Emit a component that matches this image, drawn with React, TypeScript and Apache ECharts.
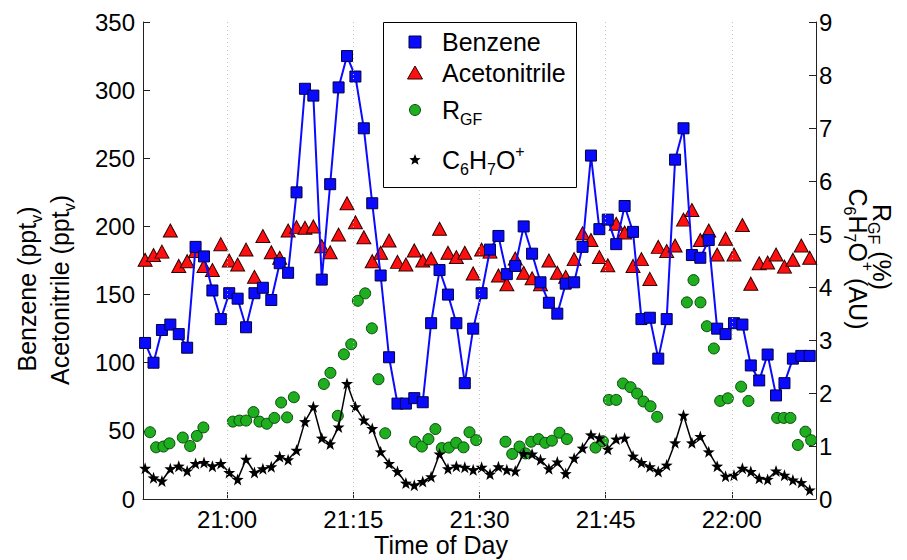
import React, { useEffect, useRef } from "react";
import * as echarts from "echarts";

// minutes after 20:00
const START_MIN = 50.25;
const X_MIN = 50;
const X_MAX = 130;
const X_TICKS = [60, 75, 90, 105, 120];

const BENZENE = [
  114.5, 100, 124, 128, 121, 111, 185, 178, 153, 132,
  151, 147, 126, 151, 155, 146, 173, 166, 225, 301,
  296, 161, 231, 302, 325, 310, 272, 217, 164, 104,
  70, 70, 74, 71, 129, 168, 150, 129, 85, 125,
  151, 183, 193, 165, 171, 200, 180, 159, 144, 136,
  158, 159, 185, 252, 198, 205, 187, 215, 196, 132,
  133, 103, 132, 249, 272, 179, 177, 190, 125, 121,
  129, 128, 98, 87, 106, 76, 85, 103, 105, 105,
];

const ACETONITRILE = [
  175.5, 179, 181.5, 197, 171, 174.5, 182, 171, 168, 187,
  175, 172, 183, 163, 193, 181, 177, 197, 199.5, 199,
  200, 185.5, 181, 194, 217, 203, 192, 174.5, 180.7, 189.7,
  174, 172, 182.4, 175, 176.5, 198.3, 180.7, 177.5, 180.7, 165.5,
  183, 181.5, 164, 157.5, 176.5, 166, 162, 157.5, 175, 166,
  163, 176, 195, 190, 177.5, 171.5, 202, 195.5, 171, 176,
  161.5, 185, 182, 186, 205, 212, 190, 197, 179.4, 191,
  179.4, 201, 158, 173, 173.5, 179.4, 170.5, 175.5, 186, 177,
];

const C6H7O = [
  0.58, 0.4, 0.34, 0.57, 0.62, 0.53, 0.67, 0.69, 0.62, 0.67,
  0.5, 0.37, 0.75, 0.5, 0.57, 0.61, 0.8, 0.74, 0.92, 1.46,
  1.74, 1.15, 1.04, 1.36, 2.18, 1.74, 1.49, 1.33, 0.89, 0.67,
  0.52, 0.3, 0.26, 0.33, 0.42, 0.85, 0.57, 0.62, 0.6, 0.55,
  0.6, 0.47, 0.61, 0.55, 0.53, 0.86, 0.85, 0.74, 0.57, 0.7,
  0.48, 0.77, 0.96, 1.21, 1.15, 0.94, 1.13, 1.15, 0.81, 0.69,
  0.61, 0.52, 0.64, 1.06, 1.58, 1.06, 1.18, 0.89, 0.62, 0.43,
  0.45, 0.58, 0.52, 0.39, 0.37, 0.53, 0.45, 0.36, 0.31, 0.17,
];

const RGF_TIMES = [
  50.84, 51.56, 52.43, 53.14, 54.73, 55.6, 56.4, 57.18,
  60.68, 61.46, 62.26, 63.13, 63.84, 64.72, 65.62, 66.42, 67.13, 67.93,
  71.5, 72.28, 73.16, 73.88, 74.75, 75.54, 76.41, 77.21, 77.99, 78.79,
  82.35, 83.15, 83.93, 84.76, 85.52, 86.36, 87.23, 88.1, 88.81, 89.61,
  93.09, 93.89, 94.76, 95.47, 96.15, 97.02, 97.81, 98.61, 99.51, 100.39,
  103.79, 104.67, 105.38, 106.25, 107.05, 107.95, 108.74, 109.49, 110.33, 111.12,
  114.65, 115.44, 116.27, 117.03, 117.86, 118.61, 119.52, 121.1, 121.97,
  125.38, 126.17, 126.96, 127.84, 128.74, 129.42,
];
const RGF = [
  1.26, 0.975, 0.99, 1.05, 1.16, 1.0, 1.19, 1.35,
  1.46, 1.48, 1.48, 1.64, 1.46, 1.42, 1.53, 1.82, 1.54, 1.92,
  2.17, 2.38, 1.57, 2.73, 2.92, 3.74, 3.88, 3.22, 2.26, 1.24,
  1.08, 0.99, 1.13, 1.32, 0.96, 0.97, 1.06, 0.975, 1.26, 1.11,
  1.08, 0.85, 0.99, 0.86, 1.08, 1.13, 1.06, 1.1, 1.25, 1.13,
  0.97, 1.09, 1.87, 1.87, 2.18, 2.11, 1.99, 1.84, 1.75, 1.55,
  3.71, 4.13, 3.71, 3.26, 2.84, 1.85, 1.9, 2.12, 1.85,
  1.53, 1.53, 1.53, 1.02, 1.27, 1.11,
];

const FONT = "'Liberation Sans', Arial, Helvetica, sans-serif";
const STAR =
  "path://M0,-10L2.35,-3.24L9.51,-3.09L3.8,1.24L5.88,8.09L0,4L-5.88,8.09L-3.8,1.24L-9.51,-3.09L-2.35,-3.24Z";

const BLUE = "#0a0aff";
const RED = "#ff1010";
const GREEN = "#1fae1f";

function starPoints(cx: number, cy: number, R: number, r: number) {
  const pts: number[][] = [];
  for (let k = 0; k < 10; k++) {
    const ang = -Math.PI / 2 + (k * Math.PI) / 5;
    const rad = k % 2 === 0 ? R : r;
    pts.push([cx + rad * Math.cos(ang), cy + rad * Math.sin(ang)]);
  }
  return pts;
}

function fmtTime(v: number) {
  const h = 20 + Math.floor(v / 60);
  const m = Math.round(v % 60);
  return `${h}:${m < 10 ? "0" + m : m}`;
}

const rich = (size: number) => ({
  n: { fontSize: size, lineHeight: 34, fontFamily: FONT, color: "#000" },
  sb: { fontSize: 16, verticalAlign: "bottom", fontFamily: FONT, color: "#000" },
  sp: { fontSize: 16, verticalAlign: "top", fontFamily: FONT, color: "#000" },
});

export default function App() {
  const ref = useRef<HTMLDivElement>(null);
  useEffect(() => {
    if (!ref.current) return;
    const chart = echarts.init(ref.current, null, { renderer: "svg" });
    const times = BENZENE.map((_, i) => START_MIN + i);
    const axisColor = "#222";
    const option: any = {
      animation: false,
      backgroundColor: "#fff",
      grid: { left: 143, right: 91, top: 22, bottom: 61, containLabel: false },
      xAxis: {
        type: "value",
        min: X_MIN,
        max: X_MAX,
        axisLine: { show: true, lineStyle: { color: axisColor, width: 1 } },
        axisTick: { show: true, inside: true, length: 7, customValues: X_TICKS, lineStyle: { color: axisColor } },
        axisLabel: {
          customValues: X_TICKS,
          formatter: (v: number) => fmtTime(v),
          fontSize: 24,
          fontFamily: FONT,
          color: "#000",
          margin: 8,
        },
        splitLine: { show: false },
      },
      yAxis: [
        {
          type: "value",
          position: "left",
          min: 0,
          max: 350,
          interval: 50,
          axisLine: { show: true, lineStyle: { color: axisColor } },
          axisTick: { show: true, inside: true, length: 7, lineStyle: { color: axisColor } },
          axisLabel: { fontSize: 24, fontFamily: FONT, color: "#000", margin: 8 },
          splitLine: { show: false },
        },
        {
          type: "value",
          position: "right",
          min: 0,
          max: 9,
          interval: 1,
          axisLine: { show: true, lineStyle: { color: axisColor } },
          axisTick: { show: true, inside: true, length: 7, lineStyle: { color: axisColor } },
          axisLabel: { fontSize: 24, fontFamily: FONT, color: "#000", margin: 3 },
          splitLine: { show: false },
        },
      ],
      series: [
        {
          name: "Benzene",
          type: "line",
          yAxisIndex: 0,
          data: times.map((t, i) => [t, BENZENE[i]]),
          symbol: "rect",
          symbolSize: 11,
          showAllSymbol: true,
          itemStyle: { color: BLUE, borderColor: "#000040", borderWidth: 1 },
          lineStyle: { color: BLUE, width: 2 },
          markLine: {
            silent: true,
            symbol: ["none", "none"],
            label: { show: false },
            lineStyle: { type: [1, 3], color: "#c4c4c4", width: 1 },
            data: X_TICKS.map((v) => ({ xAxis: v })),
          },
        },
        {
          name: "Acetonitrile",
          type: "scatter",
          yAxisIndex: 0,
          data: times.map((t, i) => [t, ACETONITRILE[i]]),
          symbol: "triangle",
          symbolSize: [14, 13],
          itemStyle: { color: RED, borderColor: "#300000", borderWidth: 1, opacity: 1 },
        },
        {
          name: "RGF",
          type: "scatter",
          yAxisIndex: 1,
          data: RGF_TIMES.map((t, i) => [t, RGF[i]]),
          symbol: "circle",
          symbolSize: 11,
          itemStyle: { color: GREEN, borderColor: "#0a4a0a", borderWidth: 1, opacity: 1 },
        },
        {
          name: "C6H7O+",
          type: "line",
          yAxisIndex: 1,
          data: times.map((t, i) => [t, C6H7O[i]]),
          symbol: STAR,
          symbolSize: 12,
          showAllSymbol: true,
          itemStyle: { color: "#000" },
          lineStyle: { color: "#000", width: 1.5 },
        },
      ],
      graphic: [
        // legend box
        { type: "rect", shape: { x: 383.5, y: 22.5, width: 193, height: 165 }, style: { fill: "#fff", stroke: "#000", lineWidth: 1 }, z: 100 },
        { type: "rect", shape: { x: 409, y: 36, width: 12, height: 12 }, style: { fill: BLUE, stroke: "#000040", lineWidth: 1 }, z: 101 },
        { type: "polygon", shape: { points: [[415, 66], [422.5, 79], [407.5, 79]] }, style: { fill: RED, stroke: "#300000", lineWidth: 1 }, z: 101 },
        { type: "circle", shape: { cx: 415, cy: 110, r: 5.5 }, style: { fill: GREEN, stroke: "#0a4a0a", lineWidth: 1 }, z: 101 },
        { type: "polygon", shape: { points: starPoints(415, 160, 6, 2.6) }, style: { fill: "#000" }, z: 101 },
        { type: "text", x: 442, y: 42, z: 101, style: { text: "Benzene", font: `25px ${FONT}`, fill: "#000", align: "left", verticalAlign: "middle" } },
        { type: "text", x: 442, y: 73, z: 101, style: { text: "Acetonitrile", font: `25px ${FONT}`, fill: "#000", align: "left", verticalAlign: "middle" } },
        { type: "text", x: 442, y: 110, z: 101, style: { text: "{n|R}{sb|GF}", rich: rich(25), align: "left", verticalAlign: "middle" } },
        { type: "text", x: 442, y: 160, z: 101, style: { text: "{n|C}{sb|6}{n|H}{sb|7}{n|O}{sp|+}", rich: rich(25), align: "left", verticalAlign: "middle" } },
        // axis titles
        { type: "text", x: 27, y: 289, rotation: Math.PI / 2, style: { text: "{n|Benzene (ppt}{sb|v}{n|)}", rich: rich(25), align: "center", verticalAlign: "middle" } },
        { type: "text", x: 60, y: 290, rotation: Math.PI / 2, style: { text: "{n|Acetonitrile (ppt}{sb|v}{n|)}", rich: rich(25), align: "center", verticalAlign: "middle" } },
        { type: "text", x: 882, y: 247, rotation: -Math.PI / 2, style: { text: "{n|R}{sb|GF}{n| (%)}", rich: rich(25), align: "center", verticalAlign: "middle" } },
        { type: "text", x: 858, y: 259, rotation: -Math.PI / 2, style: { text: "{n|C}{sb|6}{n|H}{sb|7}{n|O}{sp|+}{n| (AU)}", rich: rich(25), align: "center", verticalAlign: "middle" } },
        { type: "text", x: 441, y: 545, style: { text: "Time of Day", font: `25px ${FONT}`, fill: "#000", align: "center", verticalAlign: "middle" } },
      ],
    };
    chart.setOption(option);
    return () => chart.dispose();
  }, []);
  return (
    <div
      ref={ref}
      style={{ position: "fixed", left: 0, top: 0, width: 907, height: 560, background: "#fff" }}
    />
  );
}
